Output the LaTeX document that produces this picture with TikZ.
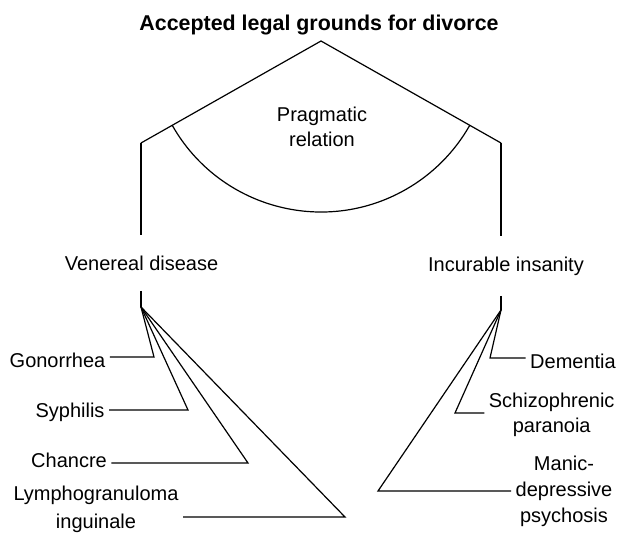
\documentclass[tikz,border=0pt]{standalone}
\usepackage{fontspec}
\setmainfont{Liberation Sans}
\usetikzlibrary{calc}
\begin{document}
\begin{tikzpicture}[x=1pt, y=-1pt, line width=1.2pt,
    lbl/.style={font=\fontsize{20}{25}\selectfont, inner sep=4pt, align=center},
    cat/.style={lbl, anchor=base, inner ysep=20pt}]
  \useasboundingbox (0,0) rectangle (619,535);
  \node[font=\bfseries\fontsize{21.4}{26}\selectfont, anchor=base] (title) at (319,31) {Accepted legal grounds for divorce};
  \coordinate (top) at (321,41);
  \coordinate (lc) at (141,143);
  \coordinate (rc) at (501,143);
  \coordinate (al) at ($(top)!171pt!(lc)$);
  \draw (lc) -- (top) -- (rc);
  \draw (al) arc[start angle=-150.46, end angle=-29.54, radius=171pt];
  \node[lbl] (prag) at (322,127) {Pragmatic\\relation};

  \node[cat] (vd) at (141.5,270) {Venereal disease};
  \node[cat] (ii) at (506,271) {Incurable insanity};
  \coordinate (vdtip) at (141,307);
  \coordinate (iitip) at (501,310);
  \draw (lc) -- (lc |- vd.north);
  \draw (lc |- vd.south) -- (vdtip);
  \draw (rc) -- (rc |- ii.north);
  \draw (rc |- ii.south) -- (iitip);

  \node[lbl, anchor=base] (gon) at (57.5,367) {Gonorrhea};
  \node[lbl, anchor=base] (syp) at (70,417) {Syphilis};
  \node[lbl, anchor=base] (cha) at (69,467) {Chancre};
  \node[lbl, font=\fontsize{20}{28}\selectfont] (lym) at (96,509) {Lymphogranuloma\\inguinale};
  \coordinate (gonv) at (154,357);
  \coordinate (sypv) at (188,410);
  \coordinate (chav) at (248,463);
  \coordinate (lymv) at (345,517);
  \draw (gon.east |- gonv) -- (gonv) -- (vdtip);
  \draw (syp.east |- sypv) -- (sypv) -- (vdtip);
  \draw (cha.east |- chav) -- (chav) -- (vdtip);
  \draw (lym.east |- lymv) -- (lymv) -- (vdtip);

  \node[lbl, anchor=base] (dem) at (573,368) {Dementia};
  \node[lbl] (sch) at (551.7,415) {Schizophrenic\\paranoia};
  \node[lbl, font=\fontsize{20}{26}\selectfont] (man) at (564,491) {Manic-\\depressive\\psychosis};
  \coordinate (demv) at (490,358);
  \coordinate (schv) at (455,413);
  \coordinate (manv) at (378,491);
  \draw (dem.west |- demv) -- (demv) -- (iitip);
  \draw (sch.west |- schv) -- (schv) -- (iitip);
  \draw (man.west |- manv) -- (manv) -- (iitip);
\end{tikzpicture}
\end{document}
